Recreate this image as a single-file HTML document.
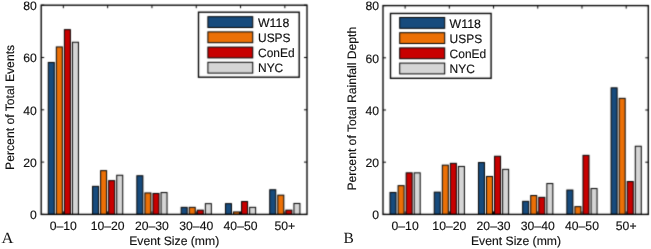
<!DOCTYPE html>
<html><head><meta charset="utf-8"><style>
html,body{margin:0;padding:0;background:#fff;}
svg{display:block;}
#T{will-change:transform;}
#T text{text-rendering:geometricPrecision;font-family:"Liberation Sans",sans-serif;font-size:12.2px;fill:#111;stroke:#111;stroke-width:0.15px;}
#T text.lt{font-family:"Liberation Serif",serif;font-size:15.5px;stroke-width:0;}
</style></head><body>
<svg width="651" height="249" viewBox="0 0 651 249">
<defs><filter id="b" x="0" y="0" width="1" height="1" color-interpolation-filters="sRGB"><feConvolveMatrix order="3" kernelMatrix="0.0225 0.1050 0.0225 0.1050 0.4900 0.1050 0.0225 0.1050 0.0225" divisor="1" edgeMode="duplicate"/></filter></defs>
<rect width="651" height="249" fill="#fff"/>
<g id="G">
<rect x="48.26" y="62.45" width="6.00" height="151.95" fill="#174b7d" stroke="#000"/>
<rect x="56.32" y="46.95" width="6.00" height="167.45" fill="#ec7006" stroke="#000"/>
<rect x="64.38" y="29.65" width="6.00" height="184.75" fill="#c80000" stroke="#000"/>
<rect x="72.44" y="42.25" width="6.00" height="172.15" fill="#d5d5d5" stroke="#000"/>
<rect x="92.56" y="186.35" width="6.00" height="28.05" fill="#174b7d" stroke="#000"/>
<rect x="100.62" y="170.65" width="6.00" height="43.75" fill="#ec7006" stroke="#000"/>
<rect x="108.68" y="180.65" width="6.00" height="33.75" fill="#c80000" stroke="#000"/>
<rect x="116.74" y="175.25" width="6.00" height="39.15" fill="#d5d5d5" stroke="#000"/>
<rect x="136.86" y="175.75" width="6.00" height="38.65" fill="#174b7d" stroke="#000"/>
<rect x="144.92" y="192.95" width="6.00" height="21.45" fill="#ec7006" stroke="#000"/>
<rect x="152.98" y="193.45" width="6.00" height="20.95" fill="#c80000" stroke="#000"/>
<rect x="161.04" y="192.55" width="6.00" height="21.85" fill="#d5d5d5" stroke="#000"/>
<rect x="181.16" y="207.35" width="6.00" height="7.05" fill="#174b7d" stroke="#000"/>
<rect x="189.22" y="207.35" width="6.00" height="7.05" fill="#ec7006" stroke="#000"/>
<rect x="197.28" y="210.15" width="6.00" height="4.25" fill="#c80000" stroke="#000"/>
<rect x="205.34" y="203.65" width="6.00" height="10.75" fill="#d5d5d5" stroke="#000"/>
<rect x="225.46" y="203.65" width="6.00" height="10.75" fill="#174b7d" stroke="#000"/>
<rect x="233.52" y="211.95" width="6.00" height="2.45" fill="#ec7006" stroke="#000"/>
<rect x="241.58" y="201.55" width="6.00" height="12.85" fill="#c80000" stroke="#000"/>
<rect x="249.64" y="207.35" width="6.00" height="7.05" fill="#d5d5d5" stroke="#000"/>
<rect x="269.76" y="189.75" width="6.00" height="24.65" fill="#174b7d" stroke="#000"/>
<rect x="277.82" y="195.15" width="6.00" height="19.25" fill="#ec7006" stroke="#000"/>
<rect x="285.88" y="210.15" width="6.00" height="4.25" fill="#c80000" stroke="#000"/>
<rect x="293.94" y="203.45" width="6.00" height="10.95" fill="#d5d5d5" stroke="#000"/>
<rect x="41.2" y="5.2" width="265.80" height="209.20" fill="none" stroke="#000" stroke-width="1.35"/>
<path d="M41.2 214.40h3M307.0 214.40h-3" stroke="#000"/>
<path d="M41.2 162.10h3M307.0 162.10h-3" stroke="#000"/>
<path d="M41.2 109.80h3M307.0 109.80h-3" stroke="#000"/>
<path d="M41.2 57.50h3M307.0 57.50h-3" stroke="#000"/>
<path d="M41.2 5.20h3M307.0 5.20h-3" stroke="#000"/>
<path d="M63.35 5.2v3M63.35 214.4v-3" stroke="#000"/>
<path d="M107.65 5.2v3M107.65 214.4v-3" stroke="#000"/>
<path d="M151.95 5.2v3M151.95 214.4v-3" stroke="#000"/>
<path d="M196.25 5.2v3M196.25 214.4v-3" stroke="#000"/>
<path d="M240.55 5.2v3M240.55 214.4v-3" stroke="#000"/>
<path d="M284.85 5.2v3M284.85 214.4v-3" stroke="#000"/>
<rect x="198.5" y="12.2" width="100.70" height="65.00" fill="#fff" stroke="#000" stroke-width="1.35"/>
<rect x="207.9" y="16.7" width="44.85" height="10.8" fill="#174b7d" stroke="#000"/>
<rect x="207.9" y="31.9" width="44.85" height="10.8" fill="#ec7006" stroke="#000"/>
<rect x="207.9" y="47.1" width="44.85" height="10.8" fill="#c80000" stroke="#000"/>
<rect x="207.9" y="62.3" width="44.85" height="10.8" fill="#d5d5d5" stroke="#000"/>
<rect x="390.02" y="192.45" width="6.00" height="21.95" fill="#174b7d" stroke="#000"/>
<rect x="398.08" y="185.65" width="6.00" height="28.75" fill="#ec7006" stroke="#000"/>
<rect x="406.14" y="172.85" width="6.00" height="41.55" fill="#c80000" stroke="#000"/>
<rect x="414.20" y="172.85" width="6.00" height="41.55" fill="#d5d5d5" stroke="#000"/>
<rect x="434.24" y="192.15" width="6.00" height="22.25" fill="#174b7d" stroke="#000"/>
<rect x="442.30" y="165.15" width="6.00" height="49.25" fill="#ec7006" stroke="#000"/>
<rect x="450.35" y="163.35" width="6.00" height="51.05" fill="#c80000" stroke="#000"/>
<rect x="458.41" y="166.45" width="6.00" height="47.95" fill="#d5d5d5" stroke="#000"/>
<rect x="478.45" y="162.55" width="6.00" height="51.85" fill="#174b7d" stroke="#000"/>
<rect x="486.51" y="176.45" width="6.00" height="37.95" fill="#ec7006" stroke="#000"/>
<rect x="494.57" y="156.25" width="6.00" height="58.15" fill="#c80000" stroke="#000"/>
<rect x="502.63" y="169.35" width="6.00" height="45.05" fill="#d5d5d5" stroke="#000"/>
<rect x="522.67" y="201.35" width="6.00" height="13.05" fill="#174b7d" stroke="#000"/>
<rect x="530.73" y="195.55" width="6.00" height="18.85" fill="#ec7006" stroke="#000"/>
<rect x="538.79" y="197.35" width="6.00" height="17.05" fill="#c80000" stroke="#000"/>
<rect x="546.85" y="183.55" width="6.00" height="30.85" fill="#d5d5d5" stroke="#000"/>
<rect x="566.88" y="190.05" width="6.00" height="24.35" fill="#174b7d" stroke="#000"/>
<rect x="574.94" y="206.65" width="6.00" height="7.75" fill="#ec7006" stroke="#000"/>
<rect x="583.00" y="155.35" width="6.00" height="59.05" fill="#c80000" stroke="#000"/>
<rect x="591.06" y="188.55" width="6.00" height="25.85" fill="#d5d5d5" stroke="#000"/>
<rect x="611.10" y="87.85" width="6.00" height="126.55" fill="#174b7d" stroke="#000"/>
<rect x="619.16" y="98.35" width="6.00" height="116.05" fill="#ec7006" stroke="#000"/>
<rect x="627.22" y="181.55" width="6.00" height="32.85" fill="#c80000" stroke="#000"/>
<rect x="635.28" y="146.25" width="6.00" height="68.15" fill="#d5d5d5" stroke="#000"/>
<rect x="383.0" y="5.6" width="265.30" height="208.80" fill="none" stroke="#000" stroke-width="1.35"/>
<path d="M383.0 214.40h3M648.3 214.40h-3" stroke="#000"/>
<path d="M383.0 162.20h3M648.3 162.20h-3" stroke="#000"/>
<path d="M383.0 110.00h3M648.3 110.00h-3" stroke="#000"/>
<path d="M383.0 57.80h3M648.3 57.80h-3" stroke="#000"/>
<path d="M383.0 5.60h3M648.3 5.60h-3" stroke="#000"/>
<path d="M405.11 5.6v3M405.11 214.4v-3" stroke="#000"/>
<path d="M449.32 5.6v3M449.32 214.4v-3" stroke="#000"/>
<path d="M493.54 5.6v3M493.54 214.4v-3" stroke="#000"/>
<path d="M537.76 5.6v3M537.76 214.4v-3" stroke="#000"/>
<path d="M581.97 5.6v3M581.97 214.4v-3" stroke="#000"/>
<path d="M626.19 5.6v3M626.19 214.4v-3" stroke="#000"/>
<rect x="390.5" y="13.45" width="100.60" height="64.85" fill="#fff" stroke="#000" stroke-width="1.35"/>
<rect x="399.7" y="17.5" width="45.00" height="10.8" fill="#174b7d" stroke="#000"/>
<rect x="399.7" y="32.7" width="45.00" height="10.8" fill="#ec7006" stroke="#000"/>
<rect x="399.7" y="47.9" width="45.00" height="10.8" fill="#c80000" stroke="#000"/>
<rect x="399.7" y="63.1" width="45.00" height="10.8" fill="#d5d5d5" stroke="#000"/>
</g>
<g filter="url(#b)">
<rect width="651" height="249" fill="#fff"/>
<use href="#G"/>
</g>
<g id="T">
<text x="36.90" y="219.10" text-anchor="end">0</text>
<text x="36.90" y="166.80" text-anchor="end">20</text>
<text x="36.90" y="114.50" text-anchor="end">40</text>
<text x="36.90" y="62.20" text-anchor="end">60</text>
<text x="36.90" y="9.90" text-anchor="end">80</text>
<text x="63.35" y="230.20" text-anchor="middle">0–10</text>
<text x="107.65" y="230.20" text-anchor="middle">10–20</text>
<text x="151.95" y="230.20" text-anchor="middle">20–30</text>
<text x="196.25" y="230.20" text-anchor="middle">30–40</text>
<text x="240.55" y="230.20" text-anchor="middle">40–50</text>
<text x="284.85" y="230.20" text-anchor="middle">50+</text>
<text x="258.00" y="26.70" textLength="31.23" lengthAdjust="spacingAndGlyphs">W118</text>
<text x="258.00" y="41.80" textLength="32.56" lengthAdjust="spacingAndGlyphs">USPS</text>
<text x="258.00" y="56.90" textLength="36.56" lengthAdjust="spacingAndGlyphs">ConEd</text>
<text x="258.00" y="72.00" textLength="25.24" lengthAdjust="spacingAndGlyphs">NYC</text>
<text transform="translate(13.70 107.40) rotate(-90)" textLength="125.11" lengthAdjust="spacing" text-anchor="middle">Percent of Total Events</text>
<text x="174.20" y="245.40" text-anchor="middle">Event Size (mm)</text>
<text x="1.60" y="243.40" textLength="11.98" lengthAdjust="spacingAndGlyphs" class="lt">A</text>
<text x="379.10" y="219.10" text-anchor="end">0</text>
<text x="379.10" y="166.90" text-anchor="end">20</text>
<text x="379.10" y="114.70" text-anchor="end">40</text>
<text x="379.10" y="62.50" text-anchor="end">60</text>
<text x="379.10" y="10.30" text-anchor="end">80</text>
<text x="405.11" y="230.20" text-anchor="middle">0–10</text>
<text x="449.32" y="230.20" text-anchor="middle">10–20</text>
<text x="493.54" y="230.20" text-anchor="middle">20–30</text>
<text x="537.76" y="230.20" text-anchor="middle">30–40</text>
<text x="581.97" y="230.20" text-anchor="middle">40–50</text>
<text x="626.19" y="230.20" text-anchor="middle">50+</text>
<text x="449.60" y="27.90" textLength="31.23" lengthAdjust="spacingAndGlyphs">W118</text>
<text x="449.60" y="43.00" textLength="32.56" lengthAdjust="spacingAndGlyphs">USPS</text>
<text x="449.60" y="58.10" textLength="36.56" lengthAdjust="spacingAndGlyphs">ConEd</text>
<text x="449.60" y="73.20" textLength="25.24" lengthAdjust="spacingAndGlyphs">NYC</text>
<text transform="translate(355.70 108.70) rotate(-90)" textLength="163.84" lengthAdjust="spacing" text-anchor="middle">Percent of Total Rainfall Depth</text>
<text x="516.00" y="245.40" text-anchor="middle">Event Size (mm)</text>
<text x="343.50" y="243.20" class="lt">B</text>
</g>
</svg>
</body></html>
